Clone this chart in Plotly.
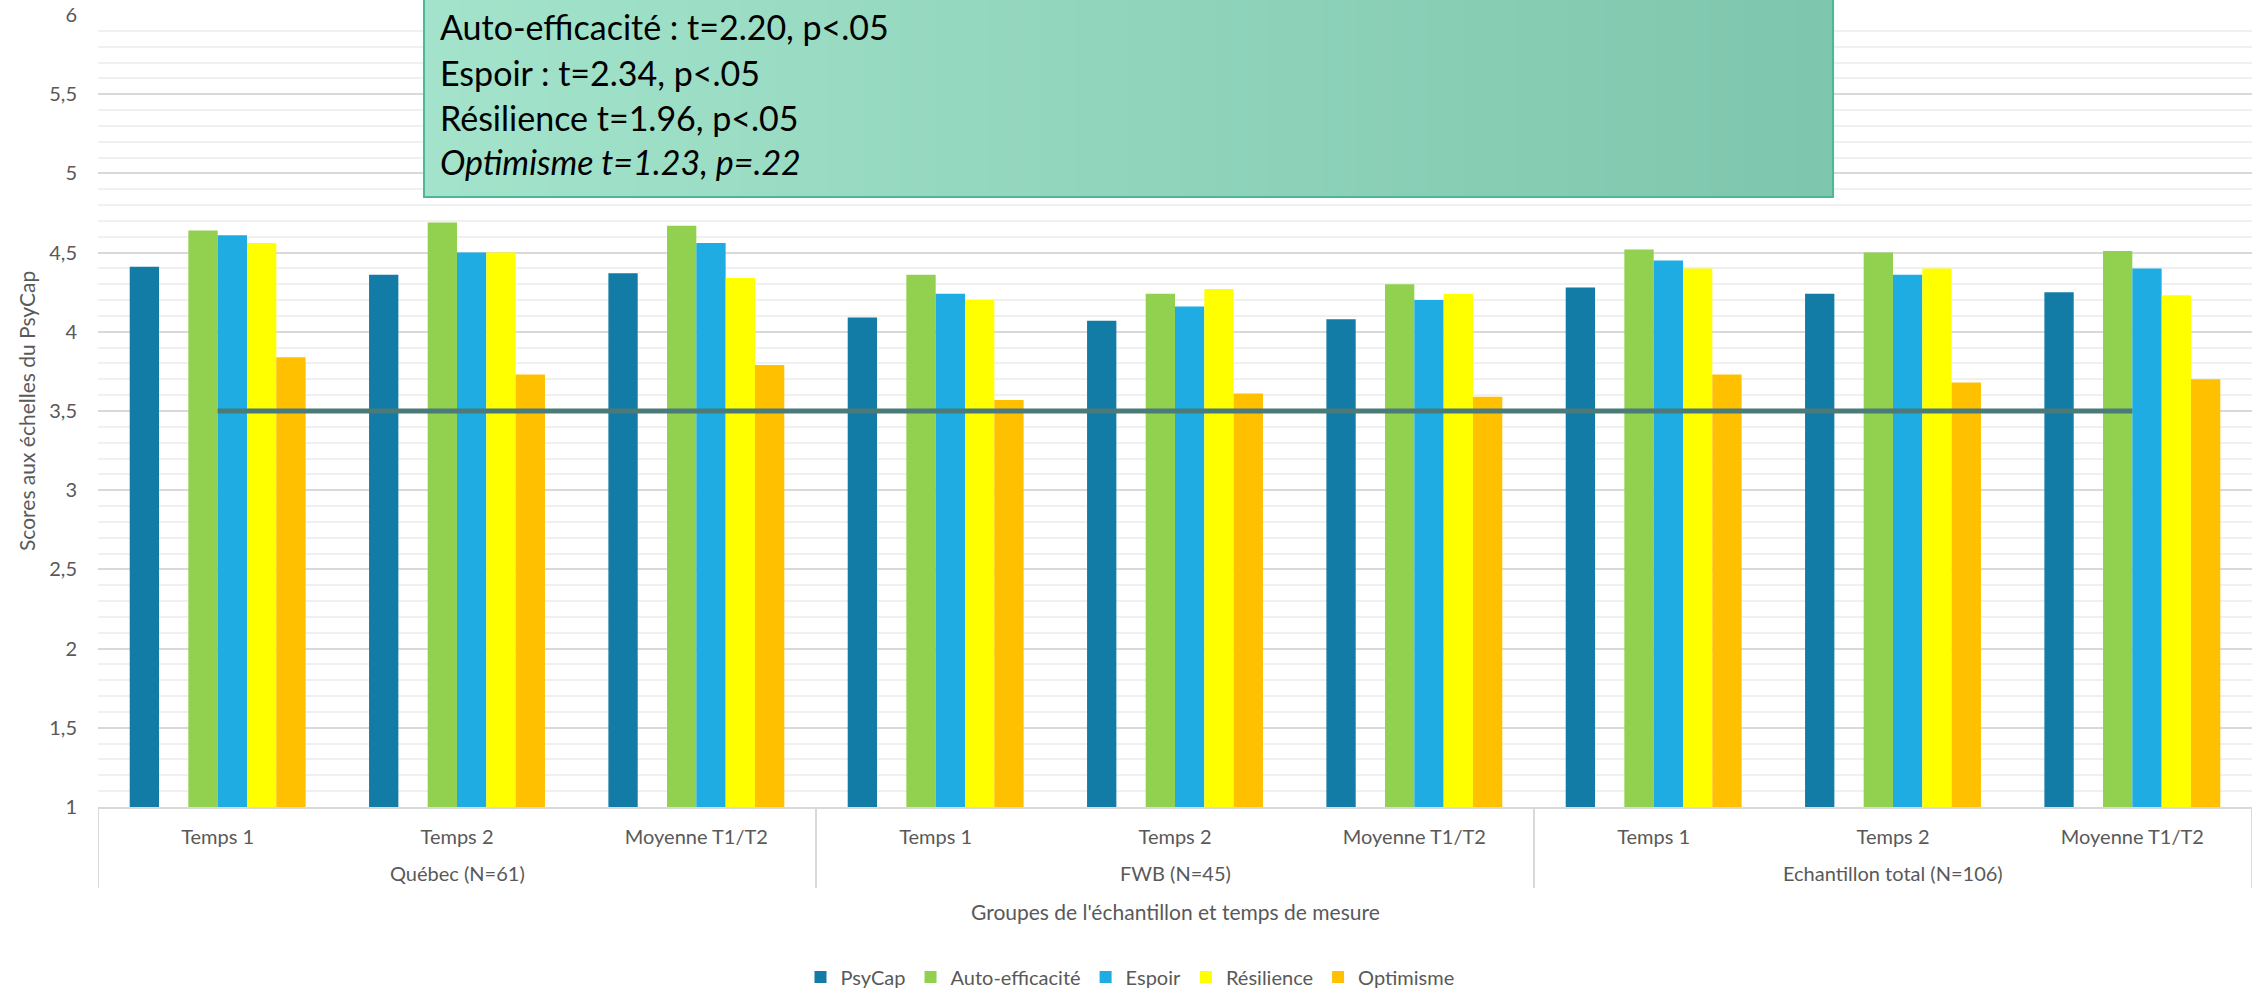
import plotly.graph_objects as go

group_names = ["Québec (N=61)", "FWB (N=45)", "Echantillon total (N=106)"]
time_names = ["Temps 1", "Temps 2", "Moyenne T1/T2"]
groups = [g for g in group_names for _ in time_names]
times = [t for _ in group_names for t in time_names]

psycap = [4.41, 4.36, 4.37, 4.09, 4.07, 4.08, 4.28, 4.24, 4.25]
auto_eff = [4.64, 4.69, 4.67, 4.36, 4.24, 4.30, 4.52, 4.50, 4.51]
espoir = [4.61, 4.50, 4.56, 4.24, 4.16, 4.20, 4.45, 4.36, 4.40]
resilience = [4.56, 4.50, 4.34, 4.20, 4.27, 4.24, 4.40, 4.40, 4.23]
optimisme = [3.84, 3.73, 3.79, 3.57, 3.61, 3.59, 3.73, 3.68, 3.70]
seuil = [3.5] * 9
vide = [0] * 9

stats_lines = [
    "Auto-efficacité : t=2.20, p<.05",
    "Espoir : t=2.34, p<.05",
    "Résilience t=1.96, p<.05",
    "<i>Optimisme t=1.23, p=.22</i>",
]

FONT = "Lato"
GRAY = "#595959"

# plot-area geometry (pixels)
L, R, T, B = 98, 8, 15, 183
PW = 2260 - L - R
PH = 990 - T - B


def py(pix):
    return (990 - B - pix) / PH


def px(pix):
    return (pix - L) / PW


xi = list(range(len(times)))
fig = go.Figure()
fig.add_bar(x=xi, y=psycap, name="PsyCap", marker=dict(color="#127ba6", line=dict(width=0)))
fig.add_bar(x=xi, y=vide, name="", showlegend=False, marker=dict(color="#1eace3", line=dict(width=0)), hoverinfo="skip")
fig.add_bar(x=xi, y=auto_eff, name="Auto-efficacité", marker=dict(color="#92d050", line=dict(width=0)))
fig.add_bar(x=xi, y=espoir, name="Espoir", marker=dict(color="#1eace3", line=dict(width=0)))
fig.add_bar(x=xi, y=resilience, name="Résilience", marker=dict(color="#ffff00", line=dict(width=0)))
fig.add_bar(x=xi, y=optimisme, name="Optimisme", marker=dict(color="#ffc000", line=dict(width=0)))
fig.add_scatter(x=xi, y=seuil, mode="lines", line=dict(color="#4a7b79", width=5), showlegend=False,
                hoverinfo="skip")

shapes = []
annotations = []

# group dividers and group labels
ng = len(time_names)
for gi, gname in enumerate(group_names):
    left = gi * ng - 0.5
    shapes.append(dict(type="line", xref="x", yref="paper", x0=left, x1=left, y0=0, y1=py(888),
                       line=dict(color="#d9d9d9", width=2)))
    annotations.append(dict(xref="x", yref="paper", x=gi * ng + (ng - 1) / 2, y=py(873), showarrow=False,
                            xanchor="center", yanchor="middle", text=gname,
                            font=dict(family=FONT, size=20, color=GRAY)))
last = len(group_names) * ng - 0.5
shapes.append(dict(type="line", xref="x", yref="paper", x0=last, x1=last, y0=0, y1=py(888),
                   line=dict(color="#d9d9d9", width=2)))

# annotation box with horizontal gradient (strips)
bx0, bx1 = px(424), px(1833)
by0, by1 = py(197), py(-10)
n = 80
c0 = (163, 227, 203)
c1 = (126, 198, 173)
for i in range(n):
    t = i / (n - 1)
    col = "rgb(%d,%d,%d)" % tuple(round(c0[k] + (c1[k] - c0[k]) * t) for k in range(3))
    shapes.append(dict(type="rect", xref="paper", yref="paper",
                       x0=bx0 + (bx1 - bx0) * i / n, x1=bx0 + (bx1 - bx0) * (i + 1) / n + 0.0005,
                       y0=by0, y1=by1, fillcolor=col, line=dict(width=0), layer="above"))
shapes.append(dict(type="rect", xref="paper", yref="paper", x0=bx0, x1=bx1, y0=by0, y1=by1,
                   line=dict(color="#4db895", width=2), fillcolor="rgba(0,0,0,0)", layer="above"))

for txt, ypix in zip(stats_lines, [27, 72, 117, 161]):
    annotations.append(dict(xref="paper", yref="paper", x=px(438), y=py(ypix),
                            xanchor="left", yanchor="middle", showarrow=False, text=txt,
                            font=dict(family=FONT, size=34, color="#000000")))
annotations.append(dict(xref="paper", yref="paper", x=0.5, y=py(911), showarrow=False,
                        xanchor="center", yanchor="middle",
                        text="Groupes de l'échantillon et temps de mesure",
                        font=dict(family=FONT, size=21, color=GRAY)))
annotations.append(dict(xref="paper", yref="paper", x=px(26), y=0.5, showarrow=False,
                        xanchor="center", yanchor="middle", textangle=-90,
                        text="Scores aux échelles du PsyCap",
                        font=dict(family=FONT, size=21, color=GRAY)))

fig.update_layout(
    width=2260, height=990,
    margin=dict(l=L, r=R, t=T, b=B, autoexpand=False),
    paper_bgcolor="white", plot_bgcolor="white",
    barmode="group", bargap=0.265, bargroupgap=0,
    separators=", ",
    font=dict(family=FONT, color=GRAY, size=20),
    shapes=shapes, annotations=annotations,
    showlegend=True,
    legend=dict(orientation="h", xref="paper", yref="paper", x=px(1130), y=py(977),
                xanchor="center", yanchor="middle", font=dict(family=FONT, size=20, color=GRAY),
                traceorder="normal"),
)
fig.update_yaxes(range=[1, 6], dtick=0.5, tick0=1, showgrid=True, gridcolor="#d9d9d9", gridwidth=1.5,
                 zeroline=False, showline=False, ticks="", ticklabelstandoff=20, automargin=False,
                 tickfont=dict(family=FONT, size=20, color=GRAY),
                 minor=dict(dtick=0.1, tick0=1, showgrid=True, gridcolor="#f0f0f0", gridwidth=1.5))
fig.update_xaxes(range=[-0.5, len(times) - 0.5], tickmode="array", tickvals=xi, ticktext=times,
                 showline=True, linecolor="#d9d9d9", linewidth=2, automargin=False,
                 tickfont=dict(family=FONT, size=20, color=GRAY), ticks="", ticklabelstandoff=11,
                 showgrid=False, zeroline=False)

fig.write_html("out.html", config={"displayModeBar": False},
               post_script="document.body.style.margin='0';document.body.style.overflow='hidden';")
